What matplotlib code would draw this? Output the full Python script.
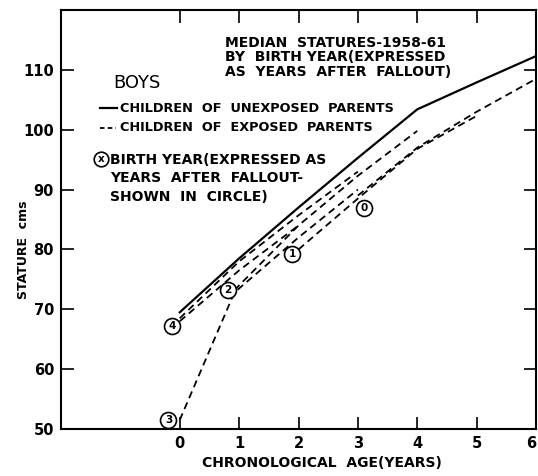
import matplotlib
matplotlib.use("Agg")
import matplotlib.pyplot as plt

W, H = 538, 476

# --- data ---
ages_unexposed = [0, 1, 2, 3, 4, 5, 6]
stature_unexposed = [69.5, 78.5, 87.0, 95.3, 103.4, 107.9, 112.3]

c4a_age = [0.0, 1.0, 2.0, 3.0]
c4a_stature = [68.5, 78.0, 85.7, 93.0]
c4b_age = [0.0, 1.0, 2.0]
c4b_stature = [68.0, 76.5, 84.0]
c3_age = [0.0, 0.92, 2.0, 3.0]
c3_stature = [51.5, 72.8, 82.0, 90.0]
c2_age = [0.92, 2.0, 3.0, 4.0]
c2_stature = [73.2, 84.0, 92.3, 99.8]
c1_age = [2.0, 3.0, 4.0, 5.0]
c1_stature = [80.0, 88.5, 96.8, 102.3]
c0_age = [3.0, 4.0, 5.0, 6.0]
c0_stature = [89.0, 97.0, 103.0, 108.5]

circle_labels = ["4", "3", "2", "1", "0"]
circle_age = [-0.13, -0.19, 0.81, 1.89, 3.11]
circle_stature = [67.2, 51.5, 73.3, 79.3, 87.0]

x_ticks = [0, 1, 2, 3, 4, 5, 6]
x_ticklabels = ["0", "1", "2", "3", "4", "5", "6"]
y_ticks = [50, 60, 70, 80, 90, 100, 110]
y_ticklabels = ["50", "60", "70", "80", "90", "100", "110"]

plt.rcParams['font.family'] = ['DejaVu Sans']

fig = plt.figure(figsize=(W / 100, H / 100), dpi=100)
ax = fig.add_axes([61 / W, (H - 429) / H, 475 / W, 419 / H])

ax.plot(ages_unexposed, stature_unexposed, color="black", lw=1.6, solid_joinstyle="miter")
dash_kw = dict(color="black", lw=1.3, linestyle=(0, (4, 2.6)))
for xs, ys in [(c4a_age, c4a_stature), (c4b_age, c4b_stature), (c3_age, c3_stature),
               (c2_age, c2_stature), (c1_age, c1_stature), (c0_age, c0_stature)]:
    ax.plot(xs, ys, **dash_kw)

ax.plot(circle_age, circle_stature, "o", ms=11.5, mfc="white", mec="black", mew=1.2, zorder=5)
for lab, xa, ya in zip(circle_labels, circle_age, circle_stature):
    ax.text(xa, ya, lab, ha="center", va="center", fontsize=7.5, fontweight="bold", zorder=6)

ax.set_xlim(-2, 6)
ax.set_ylim(50, 120)
ax.set_xticks(x_ticks)
ax.set_xticklabels(x_ticklabels)
ax.set_yticks(y_ticks)
ax.set_yticklabels(y_ticklabels)
ax.tick_params(direction="in", length=9, width=1.2, top=True, right=True,
               labelsize=10.5, pad=5)
for lab in ax.get_xticklabels() + ax.get_yticklabels():
    lab.set_fontweight("bold")
ax.get_xticklabels()[-1].set_horizontalalignment("right")
for s in ax.spines.values():
    s.set_linewidth(1.5)


def fp(x, y):
    return x / W, 1 - y / H


tk = dict(fontweight="bold", color="black", va="center", ha="left")
fig.text(*fp(24, 250), "STATURE  cms", rotation=90, ha="center", va="center",
         fontsize=9, fontweight="bold")
fig.text(*fp(322, 463), "CHRONOLOGICAL  AGE(YEARS)", ha="center", va="center",
         fontsize=10, fontweight="bold")

fig.text(*fp(225, 43), "MEDIAN  STATURES-1958-61", fontsize=10, **tk)
fig.text(*fp(225, 57), "BY  BIRTH YEAR(EXPRESSED", fontsize=10, **tk)
fig.text(*fp(225, 72), "AS  YEARS  AFTER  FALLOUT)", fontsize=10, **tk)

fig.text(*fp(113, 83), "BOYS", fontsize=13, fontweight="normal", va="center", ha="left")

fig.add_artist(plt.Line2D([100 / W, 117 / W], [1 - 108 / H] * 2, color="black", lw=1.6))
fig.text(*fp(120, 108), "CHILDREN  OF  UNEXPOSED  PARENTS", fontsize=9.3, **tk)
fig.add_artist(plt.Line2D([100 / W, 116 / W], [1 - 128 / H] * 2, color="black", lw=1.3,
                          linestyle=(0, (2.5, 1.8))))
fig.text(*fp(120, 128), "CHILDREN  OF  EXPOSED  PARENTS", fontsize=9.3, **tk)

fig.add_artist(plt.Line2D([101 / W], [1 - 159 / H], marker="o", ms=10.5, mfc="white",
                          mec="black", mew=1.2))
fig.text(*fp(101, 159), "x", fontsize=7.5, fontweight="bold", ha="center", va="center")
fig.text(*fp(110, 160), "BIRTH YEAR(EXPRESSED AS", fontsize=10, **tk)
fig.text(*fp(110, 178), "YEARS  AFTER  FALLOUT-", fontsize=10, **tk)
fig.text(*fp(110, 197), "SHOWN  IN  CIRCLE)", fontsize=10, **tk)

fig.savefig("out.png", dpi=100)
